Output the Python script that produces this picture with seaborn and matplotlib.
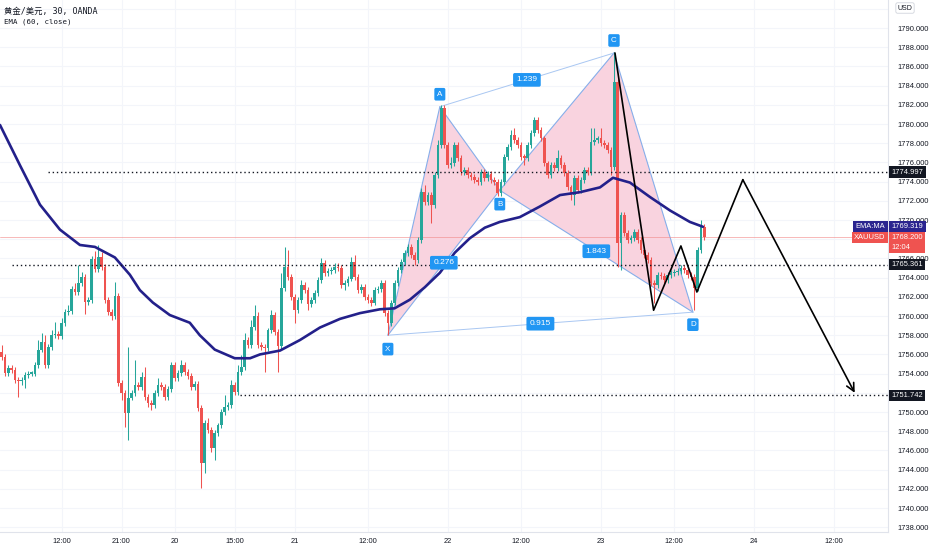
import numpy as np
import pandas as pd
import matplotlib
matplotlib.use("Agg")
import matplotlib.pyplot as plt
import seaborn as sns

sns.set_theme(style="white")
plt.rcParams["font.family"] = ["Liberation Sans", "Noto Sans CJK SC", "DejaVu Sans"]

# ---------------- data ----------------
open_first = 1756.25
closes = [
    1755.7, 1754.1, 1754.6, 1754.4, 1753.3, 1753.2, 1753.3, 1753.85, 1754.0, 1754.0,
    1754.9, 1756.5, 1757.3, 1754.9, 1756.8, 1758.0, 1758.1, 1757.9, 1759.3, 1760.4,
    1760.5, 1762.8, 1762.5, 1763.4, 1764.1, 1761.5, 1761.7, 1765.9, 1764.9, 1766.15,
    1765.1, 1761.7, 1760.4, 1760.0, 1762.1, 1753.0, 1752.0, 1749.9, 1751.5, 1752.0,
    1752.8, 1752.6, 1753.65, 1751.6, 1750.9, 1750.7, 1752.0, 1752.8, 1752.6, 1751.6,
    1752.4, 1754.9, 1753.5, 1754.1, 1754.9, 1754.2, 1753.75, 1752.6, 1752.9, 1750.4,
    1744.7, 1748.9, 1748.1, 1746.25, 1747.8, 1748.6, 1750.0, 1750.5, 1750.7, 1752.8,
    1752.1, 1754.2, 1754.7, 1757.5, 1757.0, 1758.85, 1760.0, 1757.0, 1756.8, 1756.7,
    1758.5, 1760.1, 1758.3, 1756.9, 1762.9, 1765.1, 1764.1, 1762.0, 1760.6, 1761.7,
    1763.2, 1762.7, 1761.25, 1761.7, 1762.4, 1763.75, 1765.5, 1764.5, 1764.7, 1764.8,
    1765.1, 1765.0, 1763.2, 1763.4, 1763.9, 1765.6, 1764.1, 1762.7, 1763.0, 1762.0,
    1761.7, 1761.4, 1762.7, 1762.8, 1763.4, 1760.3, 1759.3, 1761.4, 1763.4, 1764.8,
    1765.6, 1766.6, 1767.2, 1766.35, 1765.8, 1767.9, 1772.9, 1771.9, 1772.6, 1771.6,
    1774.7, 1777.8, 1781.7, 1777.8, 1775.7, 1775.9, 1777.8, 1776.5, 1775.0, 1775.2,
    1774.7, 1774.5, 1774.2, 1774.0, 1775.0, 1774.4, 1774.8, 1774.2, 1774.0, 1772.8,
    1774.0, 1776.6, 1777.6, 1778.9, 1778.3, 1777.8, 1776.6, 1776.5, 1777.8, 1779.1,
    1780.4, 1779.4, 1778.5, 1775.9, 1774.7, 1775.7, 1775.4, 1776.5, 1775.7, 1774.9,
    1773.4, 1772.6, 1774.4, 1773.1, 1774.2, 1775.2, 1775.0, 1778.1, 1778.3, 1778.5,
    1778.0, 1777.8, 1777.3, 1775.5, 1784.4, 1767.6, 1770.5, 1768.65, 1767.9, 1768.1,
    1768.75, 1767.9, 1766.9, 1766.35, 1765.8, 1763.4, 1763.2, 1764.3, 1764.2, 1763.75,
    1764.3, 1764.5, 1764.6, 1764.7, 1765.0, 1764.8, 1764.3, 1764.1, 1762.9, 1766.9,
    1769.3, 1768.2,
]
high_marks = {0: 1757.0, 11: 1757.5, 12: 1758.2, 13: 1758.0, 15: 1758.5, 16: 1759.4,
              18: 1759.8, 20: 1761.15, 21: 1763.1, 22: 1763.4, 23: 1765.3, 24: 1764.6,
              27: 1766.25, 28: 1766.8, 29: 1767.4, 30: 1766.7, 34: 1763.5, 38: 1756.8,
              40: 1755.4, 42: 1754.2, 43: 1754.7, 47: 1753.5, 51: 1755.2, 52: 1755.2,
              54: 1755.4, 62: 1749.4, 67: 1751.8, 69: 1753.3, 71: 1754.9, 72: 1755.9,
              73: 1758.2, 75: 1759.6, 76: 1761.15, 77: 1760.4, 81: 1760.6, 84: 1764.5,
              85: 1767.2, 86: 1766.9, 90: 1763.75, 96: 1766.0, 100: 1765.5, 101: 1765.5,
              105: 1766.15, 106: 1766.35, 114: 1763.75, 122: 1767.4, 126: 1773.3,
              127: 1773.6, 131: 1778.3, 132: 1781.8, 133: 1781.1, 135: 1776.6,
              136: 1778.1, 153: 1779.4, 154: 1779.6, 160: 1780.7, 167: 1777.3,
              177: 1779.6, 178: 1779.6, 180: 1779.6, 184: 1787.5, 210: 1770.0, 211: 1769.5}
low_marks = {0: 1755.4, 1: 1753.75, 2: 1754.0, 4: 1753.0, 5: 1751.6, 6: 1752.8, 7: 1752.5,
             13: 1754.6, 25: 1760.2, 26: 1761.15, 33: 1759.6, 36: 1751.25, 37: 1748.4,
             38: 1747.1, 44: 1750.5, 45: 1750.2, 49: 1751.25, 60: 1742.1, 61: 1743.6,
             63: 1745.8, 64: 1745.0, 79: 1754.2, 83: 1754.2, 88: 1759.3, 92: 1760.6,
             103: 1762.7, 108: 1762.4, 111: 1761.0, 116: 1758.0, 124: 1765.3, 129: 1769.7,
             149: 1772.5, 157: 1775.7, 171: 1772.1, 172: 1771.6, 183: 1774.7, 185: 1765.1,
             186: 1764.8, 196: 1761.4, 208: 1760.6}

ema_idx = [-0.5, 5.5, 11.5, 17.5, 23.5, 28, 34, 38.5, 41.5, 45.4, 50.5, 56.5, 59.5, 64,
           70, 74.6, 77.6, 83.6, 89.6, 95.6, 101.6, 107.6, 113.6, 118, 122.6, 127.1,
           131.6, 136.1, 140.6, 145.1, 149.6, 155.6, 161.6, 167.7, 173.7, 179.7, 183.6,
           188.7, 194.7, 200.7, 206.7, 210.6]
ema_val = [1779.9, 1775.7, 1771.6, 1769.0, 1767.4, 1767.2, 1766.1, 1764.3, 1762.7, 1761.4,
           1760.1, 1759.3, 1758.0, 1756.5, 1755.6, 1755.6, 1756.0, 1756.4, 1757.5, 1758.8,
           1759.7, 1760.3, 1760.7, 1760.8, 1761.7, 1763.0, 1764.5, 1766.6, 1768.1, 1769.2,
           1769.8, 1770.3, 1771.4, 1772.6, 1772.9, 1773.4, 1774.4, 1773.9, 1772.4, 1771.0,
           1769.8, 1769.3]

pattern_labels = ["X", "A", "B", "C", "D"]
pattern_idx = [116, 131.6, 149.6, 183.9, 207.6]
pattern_price = [1758.0, 1781.8, 1773.1, 1787.4, 1760.4]
ratio_text = ["0.276", "1.239", "1.843", "0.915"]
ratio_pairs = [("X", "B"), ("A", "C"), ("B", "D"), ("X", "D")]

path_idx = [184.2, 195.8, 204.0, 208.8, 222.6, 256.2]
path_price = [1787.4, 1760.6, 1767.3, 1762.5, 1774.2, 1752.0]

level_price = [1774.997, 1765.361, 1751.742]
level_start = [13.9, 3.1, 71.6]
last_price = 1768.2
ema_last = 1769.319

xtick_pos = [18, 36, 52, 70, 88, 110, 134, 156, 180, 202, 226, 250]
xtick_lab = ["12:00", "21:00", "20", "15:00", "21", "12:00", "22", "12:00", "23",
             "12:00", "24", "12:00"]
ytick_vals = list(range(1738, 1793, 2))
ytick_hidden = [1752, 1768, 1792]   # covered by price tags / USD badge

# ---------------- figure ----------------
W, H = 932, 550
fig = plt.figure(figsize=(W / 100, H / 100), dpi=100)
fig.patch.set_facecolor("white")
ax = fig.add_axes([0, 18 / H, 888 / W, 532 / H])
ax.set_facecolor("white")
ax.set_xlim(-0.5, 266.2)
ax.set_ylim(1737.5, 1792.92)

# grid
for xp in xtick_pos:
    ax.axvline(xp, color="#f3f5fa", lw=0.8, zorder=0)
for yv in ytick_vals:
    ax.axhline(yv, color="#f3f5fa", lw=0.8, zorder=0)

# harmonic pattern
P = dict(zip(pattern_labels, zip(pattern_idx, pattern_price)))
for tri in (("X", "A", "B"), ("B", "C", "D")):
    ax.fill([P[t][0] for t in tri], [P[t][1] for t in tri], color="#f9d3df",
            lw=0, zorder=1)
edge_c = "#86aeea"
for a, b in (("X", "A"), ("A", "B"), ("X", "B"), ("B", "C"), ("C", "D"), ("B", "D")):
    ax.plot([P[a][0], P[b][0]], [P[a][1], P[b][1]], color=edge_c, lw=0.8, zorder=2)
for a, b in (("A", "C"), ("X", "D")):
    ax.plot([P[a][0], P[b][0]], [P[a][1], P[b][1]], color="#a9c7f2", lw=0.7, zorder=2)

# candles
n = len(closes)
idx = np.arange(n)
c = np.array(closes)
o = np.r_[open_first, c[:-1]]
hi = np.maximum(o, c) + 0.3
lo = np.minimum(o, c) - 0.3
for k, v in high_marks.items():
    hi[k] = max(hi[k], v)
for k, v in low_marks.items():
    lo[k] = min(lo[k], v)
up = c >= o
cols = np.where(up, "#26a69a", "#ef5350")
ax.vlines(idx, lo, hi, colors=cols, lw=0.75, zorder=3)
ax.bar(idx, np.maximum(np.abs(c - o), 0.12), bottom=np.minimum(o, c), width=0.8,
       color=cols, linewidth=0, zorder=3.1)

# EMA
ema_df = pd.DataFrame({"i": ema_idx, "ema": ema_val})
sns.lineplot(data=ema_df, x="i", y="ema", ax=ax, color="#23208a", lw=1.9, zorder=4)

# levels
ax.axhline(last_price, color="#f28b8b", lw=0.6, alpha=0.7, zorder=2)
for lp, ls in zip(level_price, level_start):
    ax.plot([ls, 266.2], [lp, lp], color="#131722", lw=1.0, ls=(0, (1, 2)), zorder=4)

# black path
ax.plot(path_idx[:-1], path_price[:-1], color="black", lw=1.2, zorder=5)
ax.annotate("", xy=(path_idx[-1], path_price[-1]), xytext=(path_idx[-2], path_price[-2]),
            arrowprops=dict(arrowstyle="->", lw=1.2, color="black", mutation_scale=14,
                            shrinkA=0, shrinkB=0), zorder=5)

# pattern letters
blue = "#2196f3"
offs = {"X": -10, "A": 9, "B": -10, "C": 9, "D": -9}
for lab, xi, pv in zip(pattern_labels, pattern_idx, pattern_price):
    ax.annotate(lab, xy=(xi, pv), xytext=(0, offs[lab]), textcoords="offset points",
                ha="center", va="center", fontsize=5.8, color="white", zorder=7,
                bbox=dict(boxstyle="round,pad=0.35,rounding_size=0.2", fc=blue, ec="none"))
for txt, (a, b) in zip(ratio_text, ratio_pairs):
    mx = (P[a][0] + P[b][0]) / 2
    my = (P[a][1] + P[b][1]) / 2
    ax.text(mx, my, txt, ha="center", va="center", fontsize=6, color="white", zorder=7,
            bbox=dict(boxstyle="round,pad=0.4,rounding_size=0.2", fc=blue, ec="none"))

# axes style
for s in ("top", "left"):
    ax.spines[s].set_visible(False)
ax.spines["right"].set_color("#e0e3eb")
ax.spines["bottom"].set_color("#e0e3eb")
ax.spines["right"].set_linewidth(0.8)
ax.spines["bottom"].set_linewidth(0.8)
ax.yaxis.tick_right()
ax.set_yticks(ytick_vals)
ax.set_yticklabels(["" if v in ytick_hidden else f"{v:.3f}" for v in ytick_vals])
ax.set_xticks(xtick_pos)
ax.set_xticklabels(xtick_lab)
ax.tick_params(axis="y", length=0, pad=7, labelsize=5.4, labelcolor="#131722")
ax.tick_params(axis="x", length=0, pad=4, labelsize=5.4, labelcolor="#131722")
ax.set_xlabel("")
ax.set_ylabel("")

# price tags on the scale
yt = ax.get_yaxis_transform()
def tag(y, txt, fc, x=1.004, ha="left", fs=5.4):
    ax.text(x, y, txt, transform=yt, ha=ha, va="center", fontsize=fs, color="white",
            zorder=10, clip_on=False,
            bbox=dict(boxstyle="square,pad=0.3", fc=fc, ec="none"))

tag(level_price[0], f"{level_price[0]:.3f}", "#131722")
tag(level_price[1], f"{level_price[1]:.3f}", "#131722")
tag(level_price[2], f"{level_price[2]:.3f}", "#131722")
tag(ema_last, f"{ema_last:.3f}", "#2a248f")
ax.text(1.004, last_price - 0.55, f"{last_price:.3f}\n12:04", transform=yt, ha="left",
        va="center", fontsize=5.4, color="white", zorder=10, clip_on=False,
        linespacing=1.5,
        bbox=dict(boxstyle="square,pad=0.3", fc="#ef5350", ec="none"))
tag(ema_last, "EMA:MA", "#2a248f", x=0.997, ha="right")
tag(last_price, "XAUUSD", "#ef5350", x=0.997, ha="right")

# USD badge
fig.text(905 / W, 1 - 8 / H, "USD", fontsize=5, color="#131722", ha="center", va="center",
         bbox=dict(boxstyle="round,pad=0.25", fc="white", ec="#d1d4dc", lw=0.6))

# titles
fig.text(4 / W, 1 - 11 / H, "黄金/美元, 30, OANDA", fontsize=6,
         family=["DejaVu Sans Mono", "Noto Sans CJK SC"], color="#131722", va="center")
fig.text(4 / W, 1 - 22 / H, "EMA (60, close)", fontsize=5.3,
         family=["DejaVu Sans Mono"], color="#131722", va="center")

fig.savefig("out.png", dpi=100, facecolor="white")
